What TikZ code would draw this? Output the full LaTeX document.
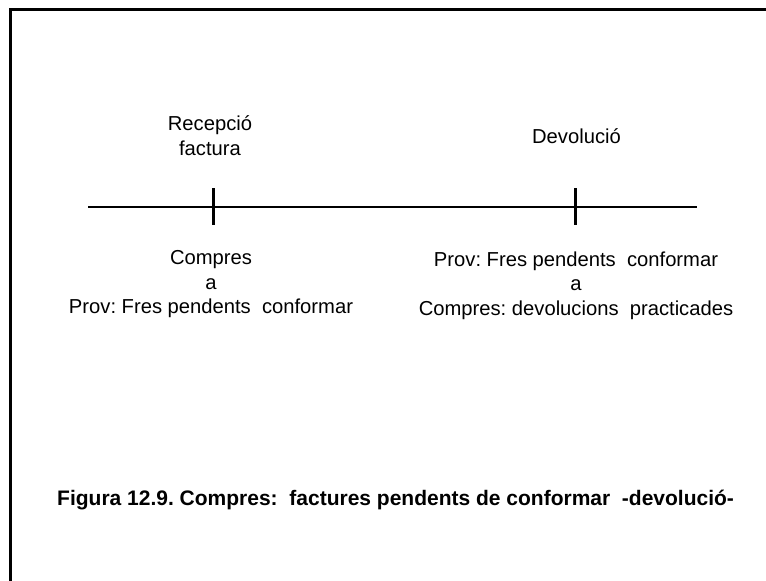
\documentclass[tikz,border=0pt]{standalone}
\usepackage{fontspec}
\setmainfont{Liberation Sans}
\frenchspacing
\begin{document}
\begin{tikzpicture}[x=1pt,y=-1pt,
  label/.style={font=\fontsize{20.2}{24.5}\selectfont, align=center, inner sep=0pt, anchor=base},
  caption/.style={font=\bfseries\fontsize{21}{25}\selectfont, inner sep=0pt, anchor=base west},
  axis/.style={line width=2.4pt},
  tick/.style={line width=3pt},
  frame/.style={line width=3pt}]
  \useasboundingbox (0,0) rectangle (766,581);
  % page frame (left and top edges)
  \coordinate (fbl) at (10,581);
  \coordinate (ftl) at (10,9);
  \coordinate (ftr) at (766,9);
  \draw[frame] (fbl) -- (ftl) -- (ftr);
  % time axis
  \coordinate (axl) at (88,207);
  \coordinate (axr) at (697,207);
  \draw[axis] (axl) -- (axr);
  % event ticks
  \coordinate (t1a) at (213,188);
  \coordinate (t1b) at (213,225);
  \coordinate (t2a) at (575,188);
  \coordinate (t2b) at (575,225);
  \draw[tick] (t1a) -- (t1b);
  \draw[tick] (t2a) -- (t2b);
  % event names (anchored on the baseline of the last line)
  \node[label] (ev1) at (210,155) {Recepció\\factura};
  \node[label] (ev2) at (576.5,143) {Devolució};
  % entries
  \node[label] (en1) at (211,313.5) {Compres\\a\\Prov:\ Fres pendents\ \ conformar};
  \node[label] (en2) at (576,315) {Prov:\ Fres pendents\ \ conformar\\a\\Compres:\ devolucions\ \ practicades};
  % caption
  \node[caption] (cap) at (57,505) {Figura 12.9. Compres:\ \ factures pendents de conformar\ \ -devolució-};
\end{tikzpicture}
\end{document}
